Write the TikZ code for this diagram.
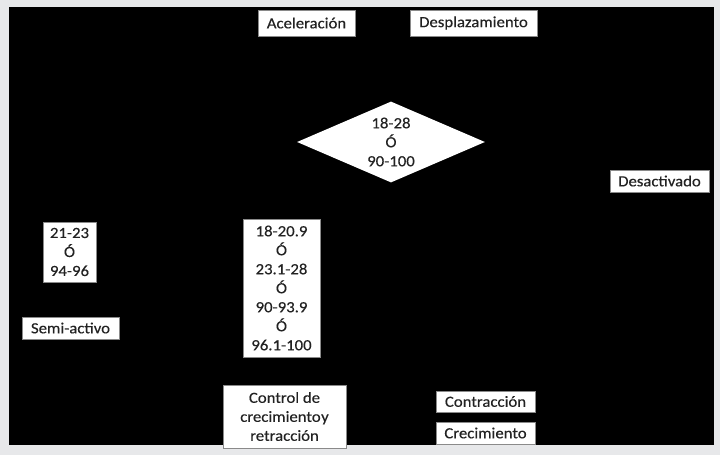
\documentclass[tikz,border=0pt]{standalone}
\usepackage{fontspec}
\setmainfont[FakeStretch=1.08,FakeBold=0.3]{Carlito}
\usetikzlibrary{shapes.geometric}
\definecolor{framegray}{HTML}{E7E8EA}
\definecolor{txt}{HTML}{222222}
\definecolor{edge}{HTML}{8A8A8A}
\tikzset{
  box/.style={draw=edge, line width=0.6pt, fill=white, inner sep=0pt, text=txt,
    align=center, font=\fontsize{15.5}{19}\selectfont},
}
\newcommand{\bx}[6]{% name, x1, y1, x2, y2, text
  \node[box, minimum width={(#4-#2)*1pt}, minimum height={(#5-#3)*1pt}]
    (#1) at ({(#2+#4)/2}, {(#3+#5)/2}) {#6};}
\begin{document}
\begin{tikzpicture}[x=1pt, y=-1pt]
  \fill[framegray] (0,0) rectangle (720,455);
  \useasboundingbox (0,0) rectangle (720,455);
  \fill[black] (9,7) rectangle (714,445);
  \bx{acel}{258}{10}{355}{36}{Aceleración}
  \bx{despl}{410}{10}{537}{36}{Desplazamiento}
  \node[box, draw=none, diamond, aspect=2.32, minimum width=188pt, minimum height=81pt]
    (dec) at (391,142) {18-28\\Ó\\90-100};
  \bx{desact}{610}{170}{709}{192}{Desactivado}
  \bx{rangeA}{43}{222}{96}{282}{21-23\\Ó\\94-96}
  \bx{semi}{22}{317}{119}{339}{Semi-activo}
  \bx{rangeB}{243}{219}{320}{357}{18-20.9\\Ó\\23.1-28\\Ó\\90-93.9\\Ó\\96.1-100}
  \bx{control}{223}{385}{346}{448}{Control de\\crecimiento{\kern0.5pt}y\\retracción}
  \bx{contr}{436}{391}{535}{412}{Contracción}
  \bx{crec}{436}{422}{535}{444}{Crecimiento}
\end{tikzpicture}
\end{document}
